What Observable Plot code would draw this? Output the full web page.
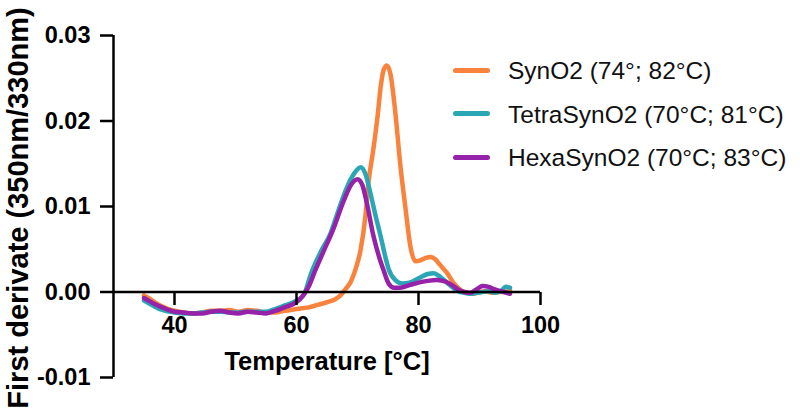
<!DOCTYPE html>
<html>
<head>
<meta charset="utf-8">
<script src="https://cdn.jsdelivr.net/npm/d3@7"></script>
<script src="https://cdn.jsdelivr.net/npm/@observablehq/plot@0.6"></script>
<style>
  html, body { margin: 0; padding: 0; background: #fff; }
  #wrap { position: relative; width: 800px; height: 415px; font-family: "Liberation Sans", Arial, sans-serif; }
  #legend { position: absolute; left: 0; top: 0; }
  .row { position: absolute; left: 453px; height: 30px; width: 345px; }
  .sw { position: absolute; left: 0; top: 12.5px; width: 37px; height: 5px; border-radius: 3px; }
  .lab { position: absolute; left: 55px; top: 1px; font-size: 24.5px; line-height: 30px; color: #111; white-space: nowrap; }
</style>
</head>
<body>
<div id="wrap"></div>
<script>
// ---- data ----
const seriesNames = ["SynO2 (74°; 82°C)", "TetraSynO2 (70°C; 81°C)", "HexaSynO2 (70°C; 83°C)"];
const seriesColors = ["#f9823d", "#2ba6b5", "#9522a8"];

const synO2_T = [35, 36, 37, 38, 39, 40, 41.5, 43, 44.5, 46, 47.5, 49, 50.5, 52, 53.5, 55, 56.5, 58, 60, 62, 63.5, 65, 66.2, 67.2, 68, 68.9, 69.7, 70.5, 71.3, 71.8, 72.6, 73.3, 73.8, 74.3, 74.8, 75.4, 76.2, 77, 77.9, 78.7, 79.5, 80.3, 81.2, 82, 82.8, 83.5, 84.7, 85.7, 87, 88, 89, 90, 91, 92, 93, 94, 95];
const synO2_V = [-0.0004, -0.0008, -0.0013, -0.0017, -0.0020, -0.0022, -0.0024, -0.0025, -0.0024, -0.0022, -0.0022, -0.0021, -0.0023, -0.0021, -0.0022, -0.0024, -0.0024, -0.0022, -0.0020, -0.0018, -0.0015, -0.0012, -0.0009, -0.0004, 0.0003, 0.0012, 0.0027, 0.0049, 0.0089, 0.0128, 0.0167, 0.0206, 0.0240, 0.0260, 0.0265, 0.0255, 0.0210, 0.0150, 0.0096, 0.0052, 0.0036, 0.0037, 0.0040, 0.0041, 0.0038, 0.0032, 0.0022, 0.0011, 0.0002, -0.0001, -0.0002, 0.0000, 0.0001, -0.0001, 0.0000, 0.0000, 0.0002];

const tetra_T = [35, 36, 37, 38, 39, 40, 41.5, 43, 44.5, 46, 47.5, 49, 50.5, 52, 53.5, 55, 56.5, 58, 59.5, 60.5, 61.3, 62.3, 63.9, 65.6, 66.9, 68.3, 69.5, 70.5, 71.3, 72.1, 73, 73.8, 74.5, 75.1, 76.2, 77.4, 78.5, 80, 81.5, 82.5, 83.5, 84.5, 85.5, 86.5, 87.5, 88.5, 89.5, 90.5, 91.5, 92.5, 93.5, 94.3, 95];
const tetra_V = [-0.0010, -0.0014, -0.0018, -0.0021, -0.0023, -0.0024, -0.0025, -0.0025, -0.0024, -0.0023, -0.0023, -0.0024, -0.0024, -0.0023, -0.0023, -0.0023, -0.0020, -0.0016, -0.0012, -0.0008, -0.0002, 0.0020, 0.0046, 0.0069, 0.0096, 0.0123, 0.0139, 0.0146, 0.0138, 0.0116, 0.0088, 0.0065, 0.0043, 0.0027, 0.0014, 0.0010, 0.0011, 0.0016, 0.0021, 0.0022, 0.0018, 0.0012, 0.0006, 0.0001, -0.0001, -0.0002, -0.0001, 0.0000, 0.0001, -0.0001, 0.0001, 0.0006, 0.0005];

const hexa_T = [35, 36, 37, 38, 39, 40, 41.5, 43, 44.5, 46, 47.5, 49, 50.5, 52, 53.5, 55, 56.5, 58, 59.5, 60.5, 61.3, 62.1, 63, 64.4, 66, 67.7, 69, 70, 70.8, 71.5, 72.6, 73.5, 74.3, 75.1, 76, 77, 78.5, 80, 81.5, 83, 84.5, 85.5, 86.5, 87.5, 88.5, 89.5, 90.5, 91.5, 92.5, 93.5, 95];
const hexa_V = [-0.0007, -0.0011, -0.0015, -0.0018, -0.0021, -0.0023, -0.0024, -0.0025, -0.0025, -0.0023, -0.0022, -0.0024, -0.0025, -0.0023, -0.0024, -0.0025, -0.0022, -0.0018, -0.0014, -0.0009, -0.0002, 0.0008, 0.0024, 0.0047, 0.0073, 0.0106, 0.0126, 0.0132, 0.0125, 0.0105, 0.0066, 0.0042, 0.0025, 0.0010, 0.0005, 0.0005, 0.0008, 0.0011, 0.0013, 0.0014, 0.0012, 0.0008, 0.0003, 0.0000, -0.0001, 0.0003, 0.0007, 0.0006, 0.0003, 0.0001, -0.0002];

const xTicks = [40, 60, 80, 100];
const yTicks = [-0.01, 0.00, 0.01, 0.02, 0.03];
const xTitle = "Temperature [°C]";
const yTitle = "First derivate (350nm/330nm)";

// ---- build ----
const allT = [synO2_T, tetra_T, hexa_T];
const allV = [synO2_V, tetra_V, hexa_V];
const lineMarks = allT.map((T, s) =>
  Plot.line(T.map((t, i) => ({T: t, V: allV[s][i]})), {
    x: "T", y: "V", stroke: seriesColors[s], strokeWidth: 4.5,
    curve: "monotone-x", strokeLinejoin: "round", strokeLinecap: "round"
  })
);

const chart = Plot.plot({
  width: 800,
  height: 415,
  marginLeft: 113,
  marginRight: 260,
  marginTop: 35,
  marginBottom: 123,
  x: {domain: [30, 100]},
  y: {domain: [-0.01, 0.03], range: [377, 35]},
  style: {fontFamily: "'Liberation Sans', Arial, sans-serif", color: "#000", background: "#fff"},
  marks: [
    ...lineMarks,
    Plot.ruleY([0], {strokeWidth: 2.5, stroke: "#000"}),
    Plot.ruleX([30], {y1: -0.01, y2: 0.03, strokeWidth: 2.5, stroke: "#000"}),
    Plot.axisY(yTicks, {tickFormat: d => d.toFixed(2), tickSize: 13, tickPadding: 10, fontSize: 23.5, fontWeight: "bold", strokeWidth: 2.5, label: null}),
    Plot.axisX(xTicks, {tickSize: 13, tickPadding: 11, fontSize: 23.5, fontWeight: "bold", strokeWidth: 2.5, label: null}),
    Plot.text([xTitle], {text: d => d, frameAnchor: "bottom", dy: 77, textAnchor: "middle", lineAnchor: "bottom", fontSize: 25.5, fontWeight: "bold", fill: "#000"}),
    Plot.text([yTitle], {text: d => d, frameAnchor: "left", dx: -86, dy: 44, rotate: -90, textAnchor: "middle", lineAnchor: "bottom", fontSize: 29, fontWeight: "bold", fill: "#000"})
  ]
});

const wrap = document.getElementById("wrap");
wrap.appendChild(chart);

const legend = document.createElement("div");
legend.id = "legend";
seriesNames.forEach((name, i) => {
  const row = document.createElement("div");
  row.className = "row";
  row.style.top = (70 + i * 43.5 - 15) + "px";
  const sw = document.createElement("div");
  sw.className = "sw";
  sw.style.background = seriesColors[i];
  const lab = document.createElement("div");
  lab.className = "lab";
  lab.textContent = name;
  row.appendChild(sw);
  row.appendChild(lab);
  legend.appendChild(row);
});
wrap.appendChild(legend);
</script>
</body>
</html>
